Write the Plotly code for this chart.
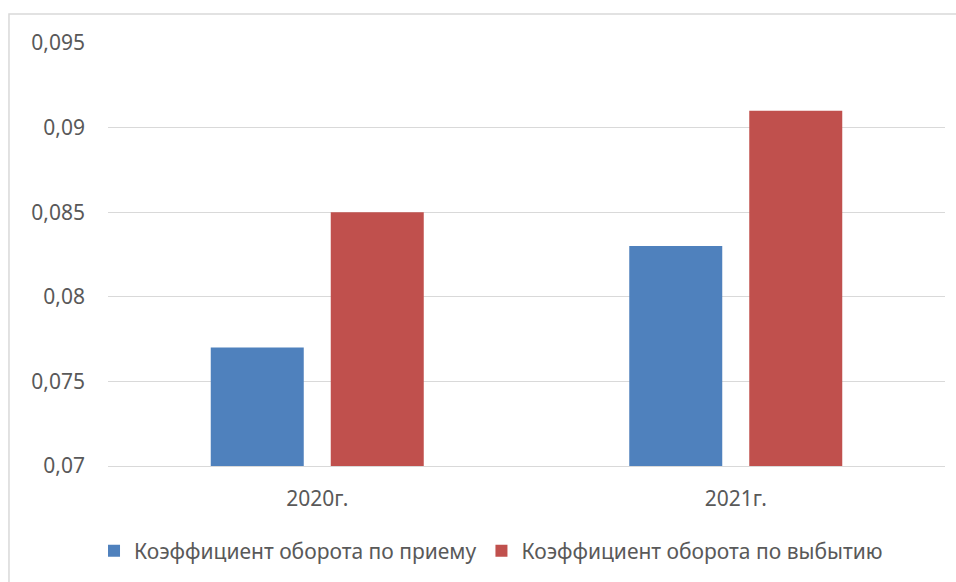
import plotly.graph_objects as go

categories = ["2020г.", "2021г."]
series_names = ["Коэффициент оборота по приему", "Коэффициент оборота по выбытию"]
priem = [0.077, 0.083]
vybytie = [0.085, 0.091]
tick_vals = [0.07, 0.075, 0.08, 0.085, 0.09, 0.095]
tick_text = ["0,07", "0,075", "0,08", "0,085", "0,09", "0,095"]

colors = ["#4f81bd", "#c0504d"]
font = dict(family="Noto Sans, DejaVu Sans, sans-serif", size=21, color="#595959")

fig = go.Figure()
fig.add_trace(go.Bar(x=categories, y=priem, name=series_names[0], marker_color=colors[0], marker_line_width=0))
fig.add_trace(go.Bar(x=categories, y=vybytie, name=series_names[1], marker_color=colors[1], marker_line_width=0))

fig.update_layout(
    width=956, height=582,
    margin=dict(l=108, r=11, t=43, b=116),
    paper_bgcolor="white", plot_bgcolor="white",
    barmode="group", bargap=0.4265, bargroupgap=0.225,
    font=font,
    showlegend=True,
    legend=dict(orientation="h", x=0.4576, xanchor="center", y=-0.201, yanchor="middle",
                font=dict(size=21, color="#595959"), itemwidth=30, tracegroupgap=0),
    shapes=[dict(type="rect", xref="paper", yref="paper", x0=-0.1183, y0=-0.6, x1=1.2, y1=1.0686,
                 line=dict(color="#d9d9d9", width=1.5), layer="below")],
)
fig.update_yaxes(range=[0.07, 0.095], tickvals=tick_vals, ticktext=tick_text,
                 showgrid=True, gridcolor="#d9d9d9", gridwidth=1, zeroline=False,
                 showline=False, ticks="", ticklabelstandoff=22, fixedrange=True)
fig.update_xaxes(showline=True, linecolor="#d9d9d9", linewidth=1, showgrid=False,
                 ticks="", ticklabelstandoff=14)

fig.write_html("out.html", config={"displayModeBar": False},
               post_script="document.body.style.margin='0';")
